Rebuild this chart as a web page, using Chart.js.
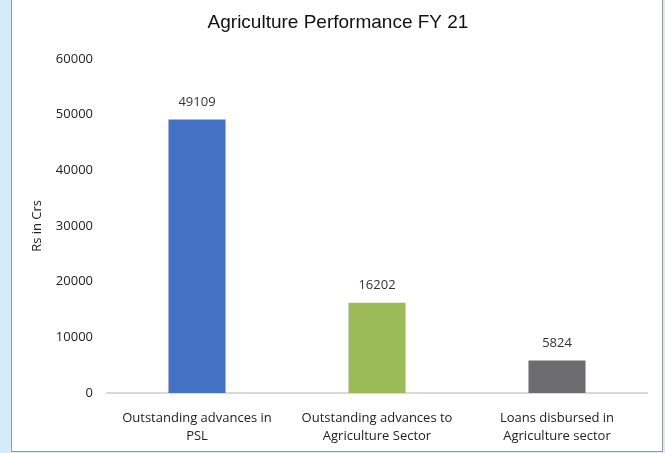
<!DOCTYPE html>
<html lang="en">
<head>
  <meta charset="UTF-8">
  <title>Agriculture Performance FY 21</title>
  <script src="https://cdn.jsdelivr.net/npm/chart.js"></script>
  <style>
    body {
      margin: 0;
      width: 665px;
      height: 453px;
      background-color: #d6ebf8;
      position: relative;
      overflow: hidden;
    }

    .panel {
      position: absolute;
      left: 11px;
      top: -2px;
      width: 650px;
      height: 452px;
      background: #fff;
      border: 1px solid #9a9a9a;
    }

    canvas {
      position: absolute;
      left: 0;
      top: 0;
    }
  </style>
</head>
<body>
  <div class="panel"></div>
  <canvas id="barChart" width="665" height="453"></canvas>

  <script>
    const categories = [
      ['Outstanding advances in', 'PSL'],
      ['Outstanding advances to', 'Agriculture Sector'],
      ['Loans disbursed in', 'Agriculture sector']
    ];
    const amounts = [49109, 16202, 5824];
    const barColors = ['#4472c4', '#9bbb59', '#6d6d6f'];

    const font = "'Open Sans', sans-serif";

    // numbers above each bar
    const valueLabels = {
      id: 'valueLabels',
      afterDatasetsDraw(chart) {
        const ctx = chart.ctx;
        const meta = chart.getDatasetMeta(0);
        ctx.save();
        ctx.font = '13px ' + font;
        ctx.fillStyle = '#333';
        ctx.textAlign = 'center';
        ctx.textBaseline = 'bottom';
        meta.data.forEach((bar, i) => {
          ctx.fillText(amounts[i], bar.x, bar.y - 11);
        });
        ctx.restore();
      }
    };

    new Chart(document.getElementById('barChart').getContext('2d'), {
      type: 'bar',
      data: {
        labels: categories,
        datasets: [{
          data: amounts,
          backgroundColor: barColors,
          categoryPercentage: 1,
          barPercentage: 0.317
        }]
      },
      options: {
        responsive: false,
        animation: false,
        layout: { padding: { left: 29, right: 18, top: 0, bottom: 0 } },
        plugins: {
          legend: { display: false },
          tooltip: { enabled: false },
          title: {
            display: true,
            text: 'Agriculture Performance FY 21',
            color: '#111',
            font: { family: "'Liberation Sans', Arial, sans-serif", size: 19, weight: 'normal' },
            padding: { top: 11, bottom: 25 }
          }
        },
        scales: {
          x: {
            grid: { display: false },
            border: { display: true, color: '#d9d9d9', width: 2 },
            ticks: {
              color: '#222',
              font: { family: font, size: 13, lineHeight: 1.4 },
              padding: 8,
              maxRotation: 0
            },
            afterFit(scale) { scale.height = 60; }
          },
          y: {
            min: 0,
            max: 60000,
            grid: { display: false },
            border: { display: false },
            ticks: {
              stepSize: 10000,
              color: '#222',
              font: { family: font, size: 13 },
              padding: 6,
              callback: (v) => String(v)
            },
            title: {
              display: true,
              text: 'Rs in Crs',
              color: '#222',
              font: { family: font, size: 13 },
              padding: 0
            },
            afterFit(scale) { scale.width = 78; }
          }
        }
      },
      plugins: [valueLabels]
    });
  </script>
</body>
</html>
